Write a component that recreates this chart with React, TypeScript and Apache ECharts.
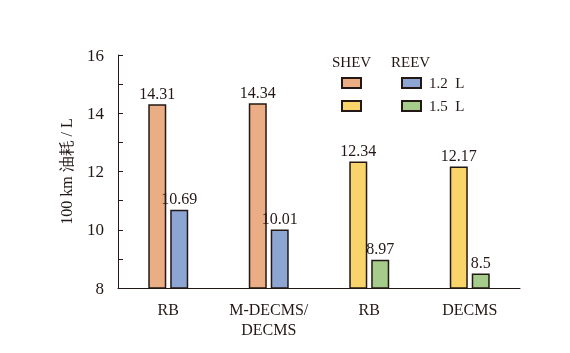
import React, { useEffect, useRef } from "react";
import * as echarts from "echarts";

const categories = ["RB", "M-DECMS/\nDECMS", "RB", "DECMS"];
const shevValues = [14.31, 14.34, 12.34, 12.17];
const reevValues = [10.69, 10.01, 8.97, 8.5];
const shevColors = ["#EBAD83", "#EBAD83", "#F8D46A", "#F8D46A"];
const reevColors = ["#8CA5D3", "#8CA5D3", "#A5CC8B", "#A5CC8B"];
const yTicks = [8, 10, 12, 14, 16];

const FONT = "'Liberation Serif', 'Times New Roman', serif";

export default function App() {
  const ref = useRef<HTMLDivElement>(null);
  useEffect(() => {
    const chart = echarts.init(ref.current!, null, { renderer: "svg" });
    const mk = (vals: number[], cols: string[]) =>
      vals.map((v, i) => ({
        value: v,
        itemStyle: { color: cols[i], borderColor: "#231815", borderWidth: 1.5 },
      }));
    const label = {
      show: true,
      position: "top",
      distance: 3,
      color: "#231815",
      fontSize: 16,
      fontFamily: FONT,
    };
    chart.setOption({
      animation: false,
      textStyle: { fontFamily: FONT },
      grid: { left: 118, right: 50, top: 55, bottom: 65 },
      xAxis: {
        type: "category",
        data: categories,
        axisLine: { lineStyle: { color: "#231815", width: 1 } },
        axisTick: { show: false },
        axisLabel: {
          interval: 0,
          color: "#231815",
          fontSize: 16,
          fontFamily: FONT,
          margin: 11,
          lineHeight: 20,
        },
      },
      yAxis: {
        type: "value",
        min: yTicks[0],
        max: yTicks[yTicks.length - 1],
        interval: 2,
        name: "100 km 油耗 / L",
        nameLocation: "middle",
        nameGap: 44,
        nameTextStyle: { color: "#231815", fontSize: 16, fontFamily: FONT },
        axisLine: { show: true, lineStyle: { color: "#231815", width: 1 } },
        axisTick: { show: true, inside: true, length: 5, lineStyle: { color: "#231815" } },
        minorTick: { show: true, splitNumber: 2, length: 5, lineStyle: { color: "#231815" } },
        splitLine: { show: false },
        axisLabel: { color: "#231815", fontSize: 17, fontFamily: FONT, margin: 14 },
      },
      series: [
        {
          type: "bar",
          name: "SHEV",
          data: mk(shevValues, shevColors),
          barWidth: 18,
          barGap: "22%",
          label,
        },
        {
          type: "bar",
          name: "REEV",
          data: mk(reevValues, reevColors),
          barWidth: 18,
          label,
        },
      ],
      graphic: [
        { type: "text", left: 332, top: 54, style: { text: "SHEV", fontSize: 15, fontFamily: FONT, fill: "#231815" } },
        { type: "text", left: 391, top: 54, style: { text: "REEV", fontSize: 15, fontFamily: FONT, fill: "#231815" } },
        { type: "rect", shape: { x: 342, y: 78, width: 19, height: 10 }, style: { fill: "#EBAD83", stroke: "#231815", lineWidth: 2 } },
        { type: "rect", shape: { x: 402, y: 78, width: 19, height: 10 }, style: { fill: "#8CA5D3", stroke: "#231815", lineWidth: 2 } },
        { type: "rect", shape: { x: 342, y: 101, width: 19, height: 10 }, style: { fill: "#F8D46A", stroke: "#231815", lineWidth: 2 } },
        { type: "rect", shape: { x: 402, y: 101, width: 19, height: 10 }, style: { fill: "#A5CC8B", stroke: "#231815", lineWidth: 2 } },
        { type: "text", left: 429, top: 75, style: { text: "1.2  L", fontSize: 15, fontFamily: FONT, fill: "#231815" } },
        { type: "text", left: 429, top: 98, style: { text: "1.5  L", fontSize: 15, fontFamily: FONT, fill: "#231815" } },
      ],
    });
    return () => chart.dispose();
  }, []);
  return <div ref={ref} style={{ position: "fixed", left: 0, top: 0, width: 570, height: 353 }} />;
}
